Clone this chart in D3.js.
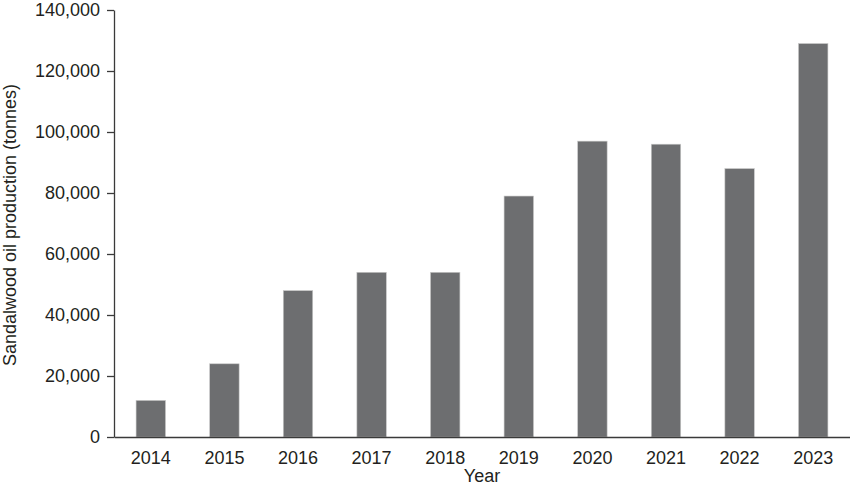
<!DOCTYPE html>
<html>
<head>
<meta charset="utf-8">
<script src="https://cdn.jsdelivr.net/npm/d3@7"></script>
<style>
  body { margin: 0; background: #fff; }
  text { font-family: "Liberation Sans", Arial, Helvetica, sans-serif; }
</style>
</head>
<body>
<div class="chart"></div>
<script>
// sandalwood oil production per year
const years = ['2014','2015','2016','2017','2018','2019','2020','2021','2022','2023'];
const production = [12000, 24000, 48000, 54000, 54000, 79000, 97000, 96000, 88000, 129000];
const yTicks = [0, 20000, 40000, 60000, 80000, 100000, 120000, 140000];

const width = 850;
const height = 487;
const margin = {top: 10, right: 0, bottom: 50, left: 114};

const svg = d3.select('.chart')
    .append('svg')
    .attr('width', width)
    .attr('height', height);

const x = d3.scaleBand()
    .domain(years)
    .range([margin.left, width - margin.right])
    .paddingInner(0.6)
    .paddingOuter(0.3);

const y = d3.scaleLinear()
    .domain([0, 140000])
    .range([height - margin.bottom, margin.top]);

//bars
svg.selectAll('rect')
    .data(years)
    .enter()
    .append('rect')
    .attr('x', d => x(d))
    .attr('y', (d, i) => y(production[i]))
    .attr('width', x.bandwidth())
    .attr('height', (d, i) => y(0) - y(production[i]))
    .attr('fill', '#6d6e70')
    .attr('stroke', '#c8c8c8')
    .attr('stroke-width', 0.6);

//y axis
const yAxis = svg.append('g')
    .attr('transform', `translate(${margin.left},0)`)
    .call(d3.axisLeft(y)
        .tickValues(yTicks)
        .tickFormat(d3.format(','))
        .tickSize(7)
        .tickPadding(7)
        .tickSizeOuter(0));
yAxis.selectAll('text').attr('font-size', 18).attr('fill', '#231f20');

//x axis (no tick marks)
const xAxis = svg.append('g')
    .attr('transform', `translate(0,${y(0)})`)
    .call(d3.axisBottom(x).tickSize(0).tickPadding(14).tickSizeOuter(0));
xAxis.selectAll('text').attr('font-size', 18).attr('fill', '#231f20');

svg.selectAll('.domain, .tick line')
    .attr('stroke', '#3a3a3a')
    .attr('stroke-width', 1.3);
svg.selectAll('.tick text').attr('font-family', '"Liberation Sans", Arial, sans-serif');

//axis labels
svg.append('text')
    .text('Year')
    .attr('x', (margin.left + width - margin.right) / 2)
    .attr('y', 482)
    .attr('text-anchor', 'middle')
    .attr('font-size', 18)
    .attr('fill', '#231f20');

svg.append('text')
    .text('Sandalwood oil production (tonnes)')
    .attr('transform', 'translate(16,225) rotate(-90)')
    .attr('text-anchor', 'middle')
    .attr('font-size', 18)
    .attr('fill', '#231f20');
</script>
</body>
</html>
